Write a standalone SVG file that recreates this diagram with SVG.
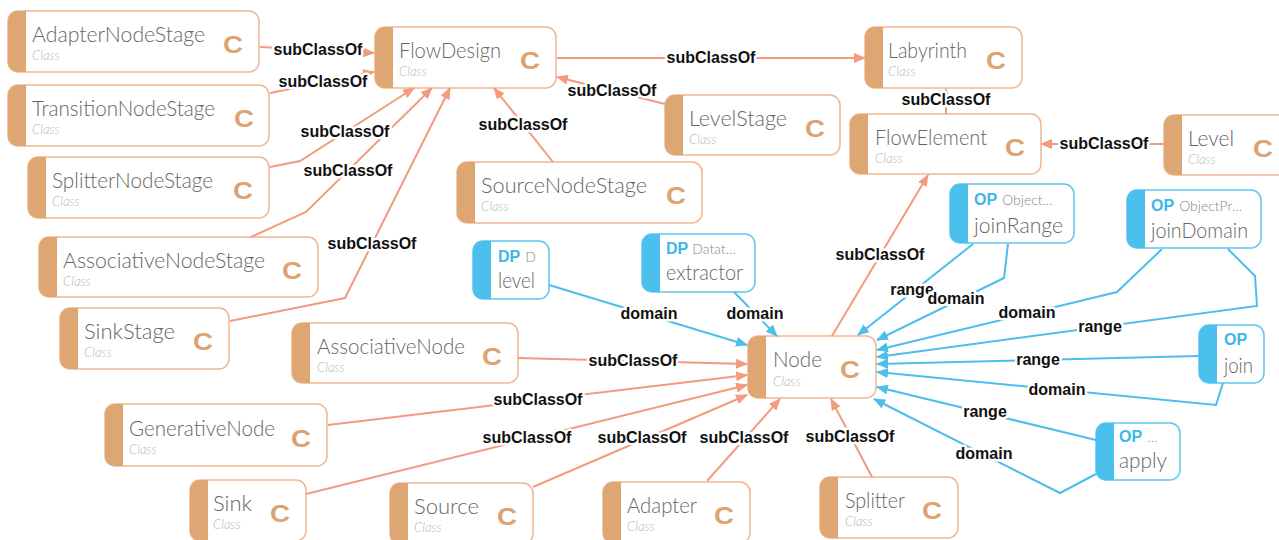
<svg xmlns="http://www.w3.org/2000/svg" width="1279" height="540" viewBox="0 0 1279 540">
<defs>
  <marker id="ah-sc" viewBox="0 0 12 10" refX="11" refY="5" markerWidth="12" markerHeight="10" markerUnits="userSpaceOnUse" orient="auto">
    <path d="M0,0 L12,5 L0,10 Z" fill="#f29b7f"/>
  </marker>
  <marker id="ah-pr" viewBox="0 0 12 10" refX="11" refY="5" markerWidth="12" markerHeight="10" markerUnits="userSpaceOnUse" orient="auto">
    <path d="M0,0 L12,5 L0,10 Z" fill="#4dbdec"/>
  </marker>
  <style>
    .box{fill:#fff;stroke:#f0b690;stroke-width:1.5}
    .cband{fill:#dea673}
    .pbox{fill:#fff;stroke:#5cc8f0;stroke-width:1.5}
    .pband{fill:#4cc0ec}
    .t{font-family:Lato,"Open Sans","Liberation Sans",sans-serif;font-weight:300;font-size:22px;fill:#666}
    .k{font-family:Lato,"Open Sans","Liberation Sans",sans-serif;font-weight:300;font-style:italic;font-size:13px;fill:#b5b5b5}
    .c{font-family:"Liberation Sans",Arial,sans-serif;font-weight:bold;font-size:23px;fill:#dca26f;text-anchor:middle}
    .op{font-family:"Liberation Sans",Arial,sans-serif;font-weight:bold;font-size:16px;fill:#3fb5e9}
    .sub{font-family:Lato,"Open Sans","Liberation Sans",sans-serif;font-weight:300;font-size:14px;fill:#888}
    .sc{fill:none;stroke:#f29b7f;stroke-width:2;marker-end:url(#ah-sc)}
    .pr{fill:none;stroke:#4dbdec;stroke-width:2;marker-end:url(#ah-pr)}
    .lb{font-family:"Liberation Sans",Arial,sans-serif;font-weight:bold;font-size:16px;fill:#111;text-anchor:middle;stroke:#fff;stroke-width:5;stroke-linejoin:round;paint-order:stroke}
  </style>
</defs>

<!-- class nodes -->
<g id="AdapterNodeStage">
  <rect class="box" x="8" y="11" width="251" height="61" rx="10"/>
  <path class="cband" d="M18,11 H26 V72 H18 A10,10 0 0 1 8,62 V21 A10,10 0 0 1 18,11 Z"/>
  <text class="t" x="32" y="42" textLength="173" lengthAdjust="spacingAndGlyphs">AdapterNodeStage</text>
  <text class="k" x="32" y="60">Class</text>
  <text class="c" x="233" y="53" textLength="20" lengthAdjust="spacingAndGlyphs">C</text>
</g>
<g id="TransitionNodeStage">
  <rect class="box" x="8" y="85" width="261" height="61" rx="10"/>
  <path class="cband" d="M18,85 H26 V146 H18 A10,10 0 0 1 8,136 V95 A10,10 0 0 1 18,85 Z"/>
  <text class="t" x="32" y="116" textLength="183" lengthAdjust="spacingAndGlyphs">TransitionNodeStage</text>
  <text class="k" x="32" y="134">Class</text>
  <text class="c" x="244" y="127" textLength="20" lengthAdjust="spacingAndGlyphs">C</text>
</g>
<g id="SplitterNodeStage">
  <rect class="box" x="28" y="157" width="241" height="61" rx="10"/>
  <path class="cband" d="M38,157 H46 V218 H38 A10,10 0 0 1 28,208 V167 A10,10 0 0 1 38,157 Z"/>
  <text class="t" x="52" y="188" textLength="161" lengthAdjust="spacingAndGlyphs">SplitterNodeStage</text>
  <text class="k" x="52" y="206">Class</text>
  <text class="c" x="243" y="199" textLength="20" lengthAdjust="spacingAndGlyphs">C</text>
</g>
<g id="AssociativeNodeStage">
  <rect class="box" x="39" y="237" width="279" height="60" rx="10"/>
  <path class="cband" d="M49,237 H57 V297 H49 A10,10 0 0 1 39,287 V247 A10,10 0 0 1 49,237 Z"/>
  <text class="t" x="63" y="268" textLength="202" lengthAdjust="spacingAndGlyphs">AssociativeNodeStage</text>
  <text class="k" x="63" y="286">Class</text>
  <text class="c" x="292" y="279" textLength="20" lengthAdjust="spacingAndGlyphs">C</text>
</g>
<g id="SinkStage">
  <rect class="box" x="60" y="308" width="169" height="61" rx="10"/>
  <path class="cband" d="M70,308 H78 V369 H70 A10,10 0 0 1 60,359 V318 A10,10 0 0 1 70,308 Z"/>
  <text class="t" x="84" y="339" textLength="91" lengthAdjust="spacingAndGlyphs">SinkStage</text>
  <text class="k" x="84" y="357">Class</text>
  <text class="c" x="203" y="350" textLength="20" lengthAdjust="spacingAndGlyphs">C</text>
</g>
<g id="FlowDesign">
  <rect class="box" x="375" y="27" width="181" height="61" rx="10"/>
  <path class="cband" d="M385,27 H393 V88 H385 A10,10 0 0 1 375,78 V37 A10,10 0 0 1 385,27 Z"/>
  <text class="t" x="399" y="58" textLength="102" lengthAdjust="spacingAndGlyphs">FlowDesign</text>
  <text class="k" x="399" y="76">Class</text>
  <text class="c" x="530" y="69" textLength="20" lengthAdjust="spacingAndGlyphs">C</text>
</g>
<g id="SourceNodeStage">
  <rect class="box" x="457" y="162" width="245" height="61" rx="10"/>
  <path class="cband" d="M467,162 H475 V223 H467 A10,10 0 0 1 457,213 V172 A10,10 0 0 1 467,162 Z"/>
  <text class="t" x="481" y="193" textLength="166" lengthAdjust="spacingAndGlyphs">SourceNodeStage</text>
  <text class="k" x="481" y="211">Class</text>
  <text class="c" x="676" y="204" textLength="20" lengthAdjust="spacingAndGlyphs">C</text>
</g>
<g id="LevelStage">
  <rect class="box" x="665" y="95" width="175" height="60" rx="10"/>
  <path class="cband" d="M675,95 H683 V155 H675 A10,10 0 0 1 665,145 V105 A10,10 0 0 1 675,95 Z"/>
  <text class="t" x="689" y="126" textLength="98" lengthAdjust="spacingAndGlyphs">LevelStage</text>
  <text class="k" x="689" y="144">Class</text>
  <text class="c" x="815" y="137" textLength="20" lengthAdjust="spacingAndGlyphs">C</text>
</g>
<g id="Labyrinth">
  <rect class="box" x="865" y="27" width="157" height="61" rx="10"/>
  <path class="cband" d="M875,27 H883 V88 H875 A10,10 0 0 1 865,78 V37 A10,10 0 0 1 875,27 Z"/>
  <text class="t" x="888" y="58" textLength="79" lengthAdjust="spacingAndGlyphs">Labyrinth</text>
  <text class="k" x="888" y="76">Class</text>
  <text class="c" x="996" y="69" textLength="20" lengthAdjust="spacingAndGlyphs">C</text>
</g>
<g id="FlowElement">
  <rect class="box" x="850" y="114" width="191" height="60" rx="10"/>
  <path class="cband" d="M860,114 H868 V174 H860 A10,10 0 0 1 850,164 V124 A10,10 0 0 1 860,114 Z"/>
  <text class="t" x="875" y="145" textLength="112" lengthAdjust="spacingAndGlyphs">FlowElement</text>
  <text class="k" x="875" y="163">Class</text>
  <text class="c" x="1015" y="156" textLength="20" lengthAdjust="spacingAndGlyphs">C</text>
</g>
<g id="Level">
  <rect class="box" x="1164" y="115" width="125" height="60" rx="10"/>
  <path class="cband" d="M1174,115 H1182 V175 H1174 A10,10 0 0 1 1164,165 V125 A10,10 0 0 1 1174,115 Z"/>
  <text class="t" x="1188" y="146" textLength="46" lengthAdjust="spacingAndGlyphs">Level</text>
  <text class="k" x="1188" y="164">Class</text>
  <text class="c" x="1263" y="157" textLength="20" lengthAdjust="spacingAndGlyphs">C</text>
</g>
<g id="Node">
  <rect class="box" x="748" y="336" width="128" height="62" rx="10"/>
  <path class="cband" d="M758,336 H766 V398 H758 A10,10 0 0 1 748,388 V346 A10,10 0 0 1 758,336 Z"/>
  <text class="t" x="773" y="367" textLength="49" lengthAdjust="spacingAndGlyphs">Node</text>
  <text class="k" x="773" y="386">Class</text>
  <text class="c" x="850" y="378" textLength="20" lengthAdjust="spacingAndGlyphs">C</text>
</g>
<g id="AssociativeNode">
  <rect class="box" x="292" y="323" width="226" height="60" rx="10"/>
  <path class="cband" d="M302,323 H310 V383 H302 A10,10 0 0 1 292,373 V333 A10,10 0 0 1 302,323 Z"/>
  <text class="t" x="317" y="354" textLength="148" lengthAdjust="spacingAndGlyphs">AssociativeNode</text>
  <text class="k" x="317" y="372">Class</text>
  <text class="c" x="492" y="365" textLength="20" lengthAdjust="spacingAndGlyphs">C</text>
</g>
<g id="GenerativeNode">
  <rect class="box" x="105" y="404" width="222" height="62" rx="10"/>
  <path class="cband" d="M115,404 H123 V466 H115 A10,10 0 0 1 105,456 V414 A10,10 0 0 1 115,404 Z"/>
  <text class="t" x="129" y="436" textLength="146" lengthAdjust="spacingAndGlyphs">GenerativeNode</text>
  <text class="k" x="129" y="454">Class</text>
  <text class="c" x="301" y="447" textLength="20" lengthAdjust="spacingAndGlyphs">C</text>
</g>
<g id="Sink">
  <rect class="box" x="190" y="480" width="116" height="61" rx="10"/>
  <path class="cband" d="M200,480 H208 V541 H200 A10,10 0 0 1 190,531 V490 A10,10 0 0 1 200,480 Z"/>
  <text class="t" x="213" y="511" textLength="39" lengthAdjust="spacingAndGlyphs">Sink</text>
  <text class="k" x="213" y="529">Class</text>
  <text class="c" x="280" y="522" textLength="20" lengthAdjust="spacingAndGlyphs">C</text>
</g>
<g id="Source">
  <rect class="box" x="390" y="483" width="143" height="61" rx="10"/>
  <path class="cband" d="M400,483 H408 V544 H400 A10,10 0 0 1 390,534 V493 A10,10 0 0 1 400,483 Z"/>
  <text class="t" x="414" y="514" textLength="65" lengthAdjust="spacingAndGlyphs">Source</text>
  <text class="k" x="414" y="532">Class</text>
  <text class="c" x="507" y="525" textLength="20" lengthAdjust="spacingAndGlyphs">C</text>
</g>
<g id="Adapter">
  <rect class="box" x="603" y="482" width="147" height="61" rx="10"/>
  <path class="cband" d="M613,482 H621 V543 H613 A10,10 0 0 1 603,533 V492 A10,10 0 0 1 613,482 Z"/>
  <text class="t" x="627" y="513" textLength="70" lengthAdjust="spacingAndGlyphs">Adapter</text>
  <text class="k" x="627" y="531">Class</text>
  <text class="c" x="724" y="524" textLength="20" lengthAdjust="spacingAndGlyphs">C</text>
</g>
<g id="Splitter">
  <rect class="box" x="820" y="477" width="138" height="61" rx="10"/>
  <path class="cband" d="M830,477 H838 V538 H830 A10,10 0 0 1 820,528 V487 A10,10 0 0 1 830,477 Z"/>
  <text class="t" x="845" y="508" textLength="60" lengthAdjust="spacingAndGlyphs">Splitter</text>
  <text class="k" x="845" y="526">Class</text>
  <text class="c" x="932" y="519" textLength="20" lengthAdjust="spacingAndGlyphs">C</text>
</g>

<!-- property nodes -->
<g id="level">
  <rect class="pbox" x="473" y="241" width="76" height="58" rx="10"/>
  <path class="pband" d="M483,241 H491 V299 H483 A10,10 0 0 1 473,289 V251 A10,10 0 0 1 483,241 Z"/>
  <text x="498" y="262"><tspan class="op">DP</tspan><tspan class="sub" dx="5">D</tspan></text>
  <text class="t" x="498" y="288" textLength="37" lengthAdjust="spacingAndGlyphs">level</text>
</g>
<g id="extractor">
  <rect class="pbox" x="642" y="234" width="113" height="58" rx="10"/>
  <path class="pband" d="M652,234 H660 V292 H652 A10,10 0 0 1 642,282 V244 A10,10 0 0 1 652,234 Z"/>
  <text x="666" y="254"><tspan class="op">DP</tspan><tspan class="sub" dx="4">Datat…</tspan></text>
  <text class="t" x="666" y="280" textLength="77" lengthAdjust="spacingAndGlyphs">extractor</text>
</g>
<g id="joinRange">
  <rect class="pbox" x="950" y="184" width="124" height="59" rx="10"/>
  <path class="pband" d="M960,184 H968 V243 H960 A10,10 0 0 1 950,233 V194 A10,10 0 0 1 960,184 Z"/>
  <text x="974" y="205"><tspan class="op">OP</tspan><tspan class="sub" dx="5">Object…</tspan></text>
  <text class="t" x="974" y="233" textLength="89" lengthAdjust="spacingAndGlyphs">joinRange</text>
</g>
<g id="joinDomain">
  <rect class="pbox" x="1127" y="190" width="134" height="58" rx="10"/>
  <path class="pband" d="M1137,190 H1145 V248 H1137 A10,10 0 0 1 1127,238 V200 A10,10 0 0 1 1137,190 Z"/>
  <text x="1151" y="211"><tspan class="op">OP</tspan><tspan class="sub" dx="5">ObjectPr…</tspan></text>
  <text class="t" x="1151" y="238" textLength="97" lengthAdjust="spacingAndGlyphs">joinDomain</text>
</g>
<g id="join">
  <rect class="pbox" x="1199" y="325" width="65" height="58" rx="10"/>
  <path class="pband" d="M1209,325 H1217 V383 H1209 A10,10 0 0 1 1199,373 V335 A10,10 0 0 1 1209,325 Z"/>
  <text x="1224" y="345"><tspan class="op">OP</tspan></text>
  <text class="t" x="1224" y="373" textLength="29" lengthAdjust="spacingAndGlyphs">join</text>
</g>
<g id="apply">
  <rect class="pbox" x="1096" y="423" width="84" height="57" rx="10"/>
  <path class="pband" d="M1106,423 H1114 V480 H1106 A10,10 0 0 1 1096,470 V433 A10,10 0 0 1 1106,423 Z"/>
  <text x="1119" y="442"><tspan class="op">OP</tspan><tspan class="sub" dx="5">…</tspan></text>
  <text class="t" x="1119" y="468" textLength="48" lengthAdjust="spacingAndGlyphs">apply</text>
</g>

<!-- connectors -->
<g id="connectors">
  <path class="sc" d="M260,47 L374,53"/>
  <path class="sc" d="M270,93 L374,72"/>
  <path class="sc" d="M270,167 L300,161 L414,88"/>
  <path class="sc" d="M251,237 L306,212 L432,88"/>
  <path class="sc" d="M230,321 L345,298 L450,88"/>
  <path class="sc" d="M553,162 L494,88"/>
  <path class="sc" d="M665,104 L557,77"/>
  <path class="sc" d="M557,58 L865,58"/>
  <path class="sc" d="M946,114 L946,89"/>
  <path class="sc" d="M1164,144 L1041,144"/>
  <path class="sc" d="M832,336 L928,175"/>
  <path class="sc" d="M518,358 L747,364"/>
  <path class="sc" d="M328,425 L747,375"/>
  <path class="sc" d="M306,494 L747,385"/>
  <path class="sc" d="M533,487 L747,395"/>
  <path class="sc" d="M707,481 L780,399"/>
  <path class="sc" d="M872,477 L831,399"/>

  <path class="pr" d="M549,285 L747,345"/>
  <path class="pr" d="M734,292 L777,336"/>
  <path class="pr" d="M973,244 L858,335"/>
  <path class="pr" d="M1008,244 L1004,278 L877,340"/>
  <path class="pr" d="M1162,249 L1117,292 L877,350"/>
  <path class="pr" d="M1228,249 L1255,276 L1257,306 L877,357"/>
  <path class="pr" d="M1199,356 L877,364"/>
  <path class="pr" d="M1223,383 L1216,405 L877,372"/>
  <path class="pr" d="M1096,440 L877,387"/>
  <path class="pr" d="M1096,474 L1060,493 L874,399"/>

  <text class="lb" x="318" y="55">subClassOf</text>
  <text class="lb" x="323" y="87">subClassOf</text>
  <text class="lb" x="345" y="137">subClassOf</text>
  <text class="lb" x="348" y="176">subClassOf</text>
  <text class="lb" x="372" y="249">subClassOf</text>
  <text class="lb" x="523" y="130">subClassOf</text>
  <text class="lb" x="612" y="96">subClassOf</text>
  <text class="lb" x="711" y="63">subClassOf</text>
  <text class="lb" x="946" y="105">subClassOf</text>
  <text class="lb" x="1104" y="149">subClassOf</text>
  <text class="lb" x="880" y="260">subClassOf</text>
  <text class="lb" x="633" y="366">subClassOf</text>
  <text class="lb" x="538" y="405">subClassOf</text>
  <text class="lb" x="527" y="443">subClassOf</text>
  <text class="lb" x="642" y="443">subClassOf</text>
  <text class="lb" x="744" y="443">subClassOf</text>
  <text class="lb" x="850" y="442">subClassOf</text>

  <text class="lb" x="649" y="319">domain</text>
  <text class="lb" x="755" y="319">domain</text>
  <text class="lb" x="912" y="295">range</text>
  <text class="lb" x="956" y="304">domain</text>
  <text class="lb" x="1027" y="318">domain</text>
  <text class="lb" x="1100" y="332">range</text>
  <text class="lb" x="1038" y="365">range</text>
  <text class="lb" x="1057" y="395">domain</text>
  <text class="lb" x="985" y="417">range</text>
  <text class="lb" x="984" y="459">domain</text>
</g>
</svg>
